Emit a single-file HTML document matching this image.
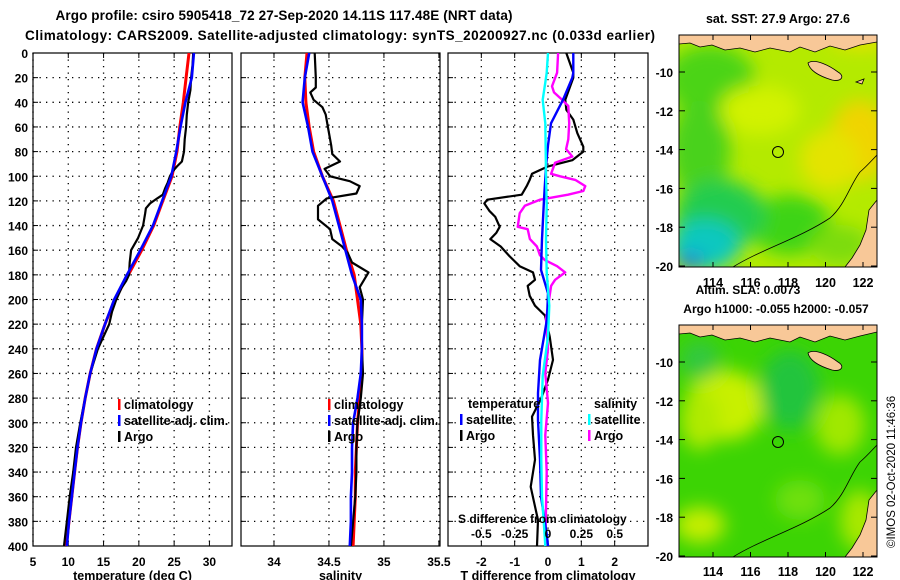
<!DOCTYPE html>
<html><head><meta charset="utf-8"><style>
html,body{margin:0;padding:0;background:#fff}
svg{display:block}
text{font-family:"Liberation Sans",Arial,sans-serif;font-weight:bold;fill:#000}
</style></head><body>
<svg id="fig" width="900" height="580" viewBox="0 0 900 580" xmlns="http://www.w3.org/2000/svg">
<defs>
<filter id="blur8" x="-50%" y="-50%" width="200%" height="200%"><feGaussianBlur stdDeviation="9"/></filter>
<clipPath id="clipMap1"><rect x="679" y="35" width="198" height="232"/></clipPath>
<clipPath id="clipMap2"><rect x="679" y="325" width="198" height="232"/></clipPath>
</defs>
<text x="284" y="20" text-anchor="middle" font-size="13.5" textLength="457">Argo profile: csiro 5905418_72 27-Sep-2020 14.11S 117.48E (NRT data)</text>
<text x="340" y="40" text-anchor="middle" font-size="13.5" textLength="630">Climatology: CARS2009. Satellite-adjusted climatology: synTS_20200927.nc (0.033d earlier)</text>

<!-- Map 1 -->
<g>
<text x="778" y="23" text-anchor="middle" font-size="12.5">sat. SST: 27.9 Argo: 27.6</text>
<g clip-path="url(#clipMap1)">
<rect x="679" y="35" width="198" height="232" fill="#b4ea00"/>
<g filter="url(#blur8)">
<ellipse cx="710" cy="80" rx="45" ry="35" fill="#4cd418"/>
<ellipse cx="700" cy="150" rx="30" ry="50" fill="#48d21c"/>
<ellipse cx="760" cy="110" rx="40" ry="25" fill="#d2f200"/>
<ellipse cx="860" cy="140" rx="30" ry="40" fill="#f0d400"/>
<ellipse cx="830" cy="160" rx="30" ry="30" fill="#e4e400"/>
<ellipse cx="790" cy="225" rx="40" ry="30" fill="#3cd414"/>
<ellipse cx="720" cy="215" rx="45" ry="35" fill="#20cc50"/>
<ellipse cx="705" cy="245" rx="35" ry="25" fill="#10c8c0"/>
<ellipse cx="690" cy="262" rx="14" ry="8" fill="#2070e0"/>
<ellipse cx="840" cy="245" rx="30" ry="20" fill="#7cdc10"/>
<ellipse cx="860" cy="40" rx="30" ry="8" fill="#f0e000"/>
</g>
<path d="M679,35 L877,35 L877,42 L860,45 L845,50 L830,46 L815,52 L800,47 L790,52 L770,48 L755,52 L740,48 L725,50 L712,45 L700,47 L690,43 L679,44 Z" fill="#f8c898" stroke="#000" stroke-width="0.8"/>
<path d="M808,63 C815,58 830,66 838,72 C845,76 842,82 832,80 C822,77 810,72 808,63 Z" fill="#f8c898" stroke="#000" stroke-width="0.8"/>
<path d="M856,82 L864,79 L862,84 Z" fill="#f8c898" stroke="#000" stroke-width="0.8"/>
<path d="M877,200 L869,210 L866,230 L860,245 L852,258 L845,267 L877,267 Z" fill="#f8c898" stroke="#000" stroke-width="0.8"/>
<path d="M733,267 C760,250 800,238 830,218 C845,205 850,185 860,172 C868,165 872,160 877,155" fill="none" stroke="#000" stroke-width="0.8"/>
</g>
<rect x="679" y="35" width="198" height="232" fill="none" stroke="#000" stroke-width="1"/>
<circle cx="778" cy="152" r="5.5" fill="none" stroke="#000" stroke-width="1"/>
</g>
<text x="748" y="294" text-anchor="middle" font-size="12">Altim. SLA: 0.0073</text>
<text x="776" y="313" text-anchor="middle" font-size="12">Argo h1000: -0.055 h2000: -0.057</text>

<!-- Map 2 -->
<g>
<g clip-path="url(#clipMap2)">
<rect x="679" y="325" width="198" height="232" fill="#3cd404"/>
<g filter="url(#blur8)">
<ellipse cx="725" cy="405" rx="40" ry="35" fill="#c8f000"/>
<ellipse cx="700" cy="420" rx="20" ry="30" fill="#b0ea00"/>
<ellipse cx="700" cy="525" rx="25" ry="18" fill="#c4ee00"/>
<ellipse cx="840" cy="425" rx="25" ry="30" fill="#a0e800"/>
<ellipse cx="790" cy="390" rx="30" ry="40" fill="#20c43c"/>
<ellipse cx="800" cy="500" rx="25" ry="20" fill="#6ee010"/>
<ellipse cx="860" cy="520" rx="20" ry="30" fill="#a8e800"/>
<ellipse cx="700" cy="360" rx="20" ry="20" fill="#30c840"/>
</g>
<path d="M679,325 L877,325 L877,332 L860,336 L845,340 L830,336 L815,342 L800,337 L790,342 L770,338 L755,342 L740,338 L725,340 L712,335 L700,337 L690,333 L679,334 Z" fill="#f8c898" stroke="#000" stroke-width="0.8"/>
<path d="M808,353 C815,348 830,356 838,362 C845,366 842,372 832,370 C822,367 810,362 808,353 Z" fill="#f8c898" stroke="#000" stroke-width="0.8"/>
<path d="M877,490 L869,500 L866,520 L860,535 L852,548 L845,557 L877,557 Z" fill="#f8c898" stroke="#000" stroke-width="0.8"/>
<path d="M733,557 C760,540 800,528 830,508 C845,495 850,475 860,462 C868,455 872,450 877,445" fill="none" stroke="#000" stroke-width="0.8"/>
</g>
<rect x="679" y="325" width="198" height="232" fill="none" stroke="#000" stroke-width="1"/>
<circle cx="778" cy="442" r="5.5" fill="none" stroke="#000" stroke-width="1"/>
</g>
<text transform="translate(895,548) rotate(-90)" font-size="11.5" font-weight="normal" style="font-weight:normal">©IMOS 02-Oct-2020 11:46:36</text>
<g id="axes"></g>
</svg>
<script>
// ---------- data ----------
const depthTicks = [0,20,40,60,80,100,120,140,160,180,200,220,240,260,280,300,320,340,360,380,400];
const tTicks = [5,10,15,20,25,30];
const sTicks = [34,34.5,35,35.5];
const dtTicks = [-2,-1,0,1,2];
const dsTicks = [-0.5,-0.25,0,0.25,0.5];
const dsTickLabels = ["-0.5","-0.25","0","0.25","0.5"];

const climDepth = [0,20,40,60,80,100,120,140,160,180,200,220,240,260,280,300,320,340,360,380,400];
const tClim = [27.1,26.7,26.3,25.8,25.4,24.7,23.4,22.1,20.4,18.5,16.6,15.2,14.0,13.1,12.4,11.8,11.3,10.9,10.5,10.1,9.7];
const tSat = [27.8,27.5,26.6,25.9,25.3,24.6,23.3,22.0,20.2,18.3,16.5,15.2,14.0,13.1,12.4,11.8,11.3,10.9,10.5,10.1,9.8];
const argoTDepth = [0,10,20,30,40,50,60,70,80,88,92,96,100,105,110,115,118,122,126,130,140,150,156,160,170,180,185,190,195,200,210,220,240,260,280,300,320,340,360,380,400];
const tArgo = [27.7,27.6,27.4,27.3,27.0,26.8,26.7,26.5,26.4,26.1,25.4,24.8,24.4,24.1,23.7,23.4,22.6,21.6,21.0,20.9,20.6,19.9,19.3,18.9,18.7,18.6,18.2,17.6,17.2,16.8,16.2,15.8,14.2,13.1,12.4,11.7,11.1,10.7,10.2,9.8,9.4];

const sClim = [34.30,34.28,34.29,34.32,34.36,34.44,34.54,34.60,34.66,34.73,34.76,34.79,34.80,34.80,34.78,34.76,34.75,34.74,34.74,34.73,34.72];
const sSat = [34.32,34.28,34.26,34.31,34.35,34.44,34.53,34.59,34.65,34.71,34.79,34.80,34.80,34.79,34.76,34.72,34.71,34.71,34.70,34.70,34.69];
const argoSDepth = [0,20,28,32,38,44,50,60,75,82,88,94,100,104,108,114,118,124,135,143,151,157,162,170,178,184,190,200,220,240,260,280,300,320,340,360,380,400];
const sArgo = [34.37,34.38,34.38,34.33,34.36,34.44,34.47,34.49,34.52,34.53,34.60,34.46,34.51,34.69,34.78,34.75,34.48,34.40,34.40,34.51,34.53,34.62,34.67,34.71,34.86,34.82,34.78,34.81,34.80,34.80,34.81,34.79,34.76,34.75,34.75,34.74,34.72,34.70];

const dtSatDepth = [0,16,20,38,57,75,92,119,151,176,195,216,249,276,298,330,360,392,400];
const dtSat = [0.76,0.76,0.73,0.45,0.09,0.0,-0.06,-0.12,-0.18,-0.21,0.0,-0.03,-0.24,-0.30,-0.30,-0.24,-0.21,-0.03,0.0];
const dtArgoDepth = [0,16,20,38,46,54,65,76,80,87,92,98,103,108,115,119,122,128,133,141,146,151,157,165,173,178,184,189,197,205,213,230,249,265,280,295,310,330,352,379,400];
const dtArgo = [0.55,0.76,0.76,0.52,0.55,0.76,0.88,1.06,1.06,0.73,0,-0.48,-0.55,-0.64,-0.79,-1.82,-1.91,-1.76,-1.58,-1.45,-1.55,-1.73,-1.42,-1.15,-0.85,-0.45,-0.39,-0.61,-0.55,-0.39,-0.09,0.05,0.15,0,-0.2,-0.48,-0.45,-0.39,-0.52,-0.30,-0.33];
const dsSatDepth = [0,16,24,38,57,98,124,151,178,205,230,262,298,330,360,392,400];
const dsSat = [0,-0.01,-0.02,-0.04,-0.02,-0.015,-0.01,-0.015,-0.01,0.01,0,-0.04,-0.05,-0.05,-0.045,-0.025,-0.02];
const dsArgoDepth = [0,16,27,32,38,43,57,70,78,84,89,98,100,103,108,112,115,119,124,130,141,143,151,157,164,168,173,178,184,189,200,216,240,260,284,310,340,370,400];
const dsArgo = [0.076,0.068,0.03,0.045,0.106,0.152,0.159,0.152,0.136,0.182,0.053,0.023,0.091,0.205,0.28,0.265,0.15,-0.061,-0.174,-0.212,-0.227,-0.152,-0.136,-0.083,-0.061,-0.023,0.068,0.129,0.053,0.023,0.008,-0.015,0,-0.02,0.0,-0.02,-0.01,-0.015,-0.02];

const latTicks = [-10,-12,-14,-16,-18,-20];
const lonTicks = [114,116,118,120,122];

// ---------- drawing ----------
const NS = "http://www.w3.org/2000/svg";
const root = document.getElementById('axes');
function mk(tag, attrs, parent){
  const e = document.createElementNS(NS, tag);
  for (const k in attrs) e.setAttribute(k, attrs[k]);
  (parent||root).appendChild(e);
  return e;
}
const Y0 = 53, Y1 = 546;
const yD = d => Y0 + (d/400)*(Y1-Y0);
function linX(a,b,x0,x1){ return v => x0 + (v-a)/(b-a)*(x1-x0); }

const panels = [
  {name:'temperature-panel', x0:33, x1:232, f:linX(5,33.2,33,232), ticks:tTicks, labels:tTicks.map(String), title:'temperature (deg C)'},
  {name:'salinity-panel', x0:241, x1:440, f:linX(33.7,35.51,241,440), ticks:sTicks, labels:sTicks.map(String), title:'salinity'},
  {name:'difference-panel', x0:448, x1:648, f:linX(-3,3,448,648), ticks:dtTicks, labels:dtTicks.map(String), title:'T difference from climatology'}
];

panels.forEach(p => {
  const g = mk('g', {});
  
  
  depthTicks.forEach(d => {
    if (d>0 && d<400) {
      const l = mk('line', {x1:p.x0, x2:p.x1, y1:yD(d), y2:yD(d), stroke:'#000', 'stroke-width':1.3, 'stroke-dasharray':'1.3,5.2'}, g);
      
      
    }
    mk('line', {x1:p.x0, x2:p.x0+5, y1:yD(d), y2:yD(d), stroke:'#000'}, g);
  });
  p.ticks.forEach((t,i) => {
    const x = p.f(t);
    const l = mk('line', {x1:x, x2:x, y1:Y0, y2:Y1, stroke:'#000', 'stroke-width':1.3, 'stroke-dasharray':'1.3,5.2'}, g);
    
    
    mk('line', {x1:x, x2:x, y1:Y0, y2:Y0+5, stroke:'#000'}, g);
    mk('line', {x1:x, x2:x, y1:Y1, y2:Y1-5, stroke:'#000'}, g);
    const tx = mk('text', {x:x, y:566, 'text-anchor':'middle', 'font-size':12}, g);
    tx.textContent = p.labels[i];
    
    
  });
  const r = mk('rect', {x:p.x0, y:Y0, width:p.x1-p.x0, height:Y1-Y0, fill:'none', stroke:'#000', 'stroke-width':1.2}, g);
  
  
  const tt = mk('text', {x:(p.x0+p.x1)/2, y:580, 'text-anchor':'middle', 'font-size':12.5}, g);
  tt.textContent = p.title;
  
  
  p.g = g;
});
// "5" label at left edge of temperature axis drawn by tTicks; extra "2.5"-ish partial omitted.

depthTicks.forEach(d => {
  const t = mk('text', {x:28, y:yD(d)+5, 'text-anchor':'end', 'font-size':12});
  t.textContent = String(d);
  
  
});

function series(p, vals, depths, color, w, name, scale){
  const pts = vals.map((v,i) => p.f(v*(scale||1)).toFixed(1)+','+yD(depths[i]).toFixed(1)).join(' ');
  const pl = mk('polyline', {points:pts, fill:'none', stroke:color, 'stroke-width':w, 'stroke-linejoin':'round'}, p.g);
  
  
}
const [pT, pS, pD] = panels;
series(pT, tClim, climDepth, '#ff0000', 3, 'temperature-climatology-line');
series(pT, tArgo, argoTDepth, '#000000', 2.2, 'temperature-argo-line');
series(pT, tSat, climDepth, '#0000ff', 2.6, 'temperature-satellite-line');
series(pS, sClim, climDepth, '#ff0000', 3, 'salinity-climatology-line');
series(pS, sArgo, argoSDepth, '#000000', 2.2, 'salinity-argo-line');
series(pS, sSat, climDepth, '#0000ff', 2.6, 'salinity-satellite-line');
series(pD, dtArgo, dtArgoDepth, '#000000', 2.2, 'temperature-argo-difference-line');
series(pD, dsArgo, dsArgoDepth, '#ff00ff', 2.4, 'salinity-argo-difference-line', 4);
series(pD, dtSat, dtSatDepth, '#0000ff', 2.4, 'temperature-satellite-difference-line');
series(pD, dsSat, dsSatDepth, '#00ffff', 2.4, 'salinity-satellite-difference-line', 4);

// S difference secondary labels
const sl = mk('text', {x:458, y:523, 'font-size':12});
sl.textContent = 'S difference from climatology';


dsTicks.forEach((t,i) => {
  const tx = mk('text', {x:pD.f(t*4), y:538, 'text-anchor':'middle', 'font-size':12});
  tx.textContent = dsTickLabels[i];
  
  
});

// legends
function legendEntry(x, y, color, label){
  const g = mk('g', {});
  
  
  mk('rect', {x:x, y:y-10, width:2.5, height:11, fill:color}, g);
  const t = mk('text', {x:x+6, y:y, 'font-size':12.5}, g);
  t.textContent = label;
}
[[118,'#ff0000','climatology',409],[118,'#0000ff','satellite-adj. clim.',425],[118,'#000000','Argo',441]].forEach(e=>legendEntry(e[0],e[3],e[1],e[2]));
[[328,'#ff0000','climatology',409],[328,'#0000ff','satellite-adj. clim.',425],[328,'#000000','Argo',441]].forEach(e=>legendEntry(e[0],e[3],e[1],e[2]));
const lt = mk('text', {x:468, y:408, 'font-size':12.5}); lt.textContent='temperature';


const ls = mk('text', {x:594, y:408, 'font-size':12.5}); ls.textContent='salinity';


legendEntry(460, 424, '#0000ff', 'satellite');
legendEntry(460, 440, '#000000', 'Argo');
legendEntry(588, 424, '#00ffff', 'satellite');
legendEntry(588, 440, '#ff00ff', 'Argo');

// map axes
function mapAxes(top, bottom, lonY){
  const latY = v => top + 37 + (-10 - v) * (bottom - top - 37 - 1) / 10;
  latTicks.forEach(v => {
    const y = latY(v);
    mk('line', {x1:679, x2:685, y1:y, y2:y, stroke:'#000'});
    mk('line', {x1:871, x2:877, y1:y, y2:y, stroke:'#000'});
    const t = mk('text', {x:673, y:y+5, 'text-anchor':'end', 'font-size':12});
    t.textContent = String(v);
    
    
  });
  const lonX = linX(114,122,713,863);
  lonTicks.forEach(v => {
    const x = lonX(v);
    mk('line', {x1:x, x2:x, y1:top, y2:top+5, stroke:'#000'});
    mk('line', {x1:x, x2:x, y1:bottom, y2:bottom-5, stroke:'#000'});
    const t = mk('text', {x:x, y:lonY, 'text-anchor':'middle', 'font-size':12.5});
    t.textContent = String(v);
    
    
  });
}
mapAxes(35, 267, 287);
mapAxes(325, 557, 576);
</script>
</body></html>
